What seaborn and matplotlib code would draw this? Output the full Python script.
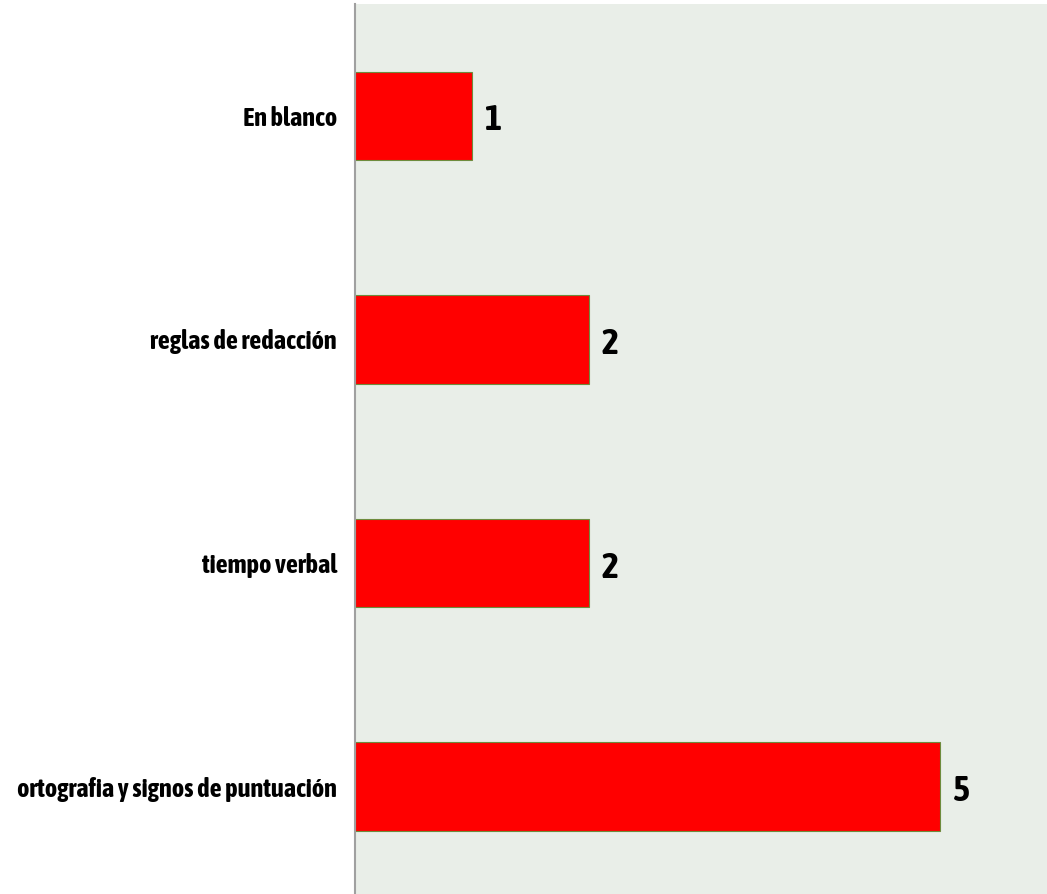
import matplotlib
matplotlib.use("Agg")
import matplotlib.pyplot as plt
import seaborn as sns
import pandas as pd

categories = ["En blanco", "reglas de redacción", "tiempo verbal",
              "ortografia y signos de puntuación"]
counts = [1, 2, 2, 5]

sns.set_style("white")
plt.rcParams["font.family"] = ["Asap Condensed", "DejaVu Sans"]

df = pd.DataFrame({"categoria": categories, "cantidad": counts})

fig = plt.figure(figsize=(10.47, 8.94), dpi=100)
ax = fig.add_axes([355 / 1047, 0, 1 - 355 / 1047, 890 / 894])
ax.set_facecolor("#E9EEE8")

sns.barplot(data=df, y="categoria", x="cantidad", orient="h", ax=ax,
            color="#FF0000", saturation=1, width=0.395,
            edgecolor="#6E8B3D", linewidth=0.8)

for i, v in enumerate(counts):
    ax.text(v + 0.11, i + 0.02, str(v), va="center", ha="left",
            fontsize=26, fontweight="bold", color="black")

ax.set_xlim(0, 5.915)
ax.set_ylim(3.48, -0.5)
ax.set_xlabel("")
ax.set_ylabel("")
ax.set_xticks([])
ax.tick_params(axis="y", length=0, pad=13)
for lab in ax.get_yticklabels():
    lab.set_fontsize(19)
    lab.set_fontweight("bold")
    lab.set_color("black")
for side in ("top", "right", "bottom"):
    ax.spines[side].set_visible(False)
ax.spines["left"].set_color("#A0A0A0")
ax.spines["left"].set_linewidth(1.5)

fig.savefig("out.png", dpi=100)
